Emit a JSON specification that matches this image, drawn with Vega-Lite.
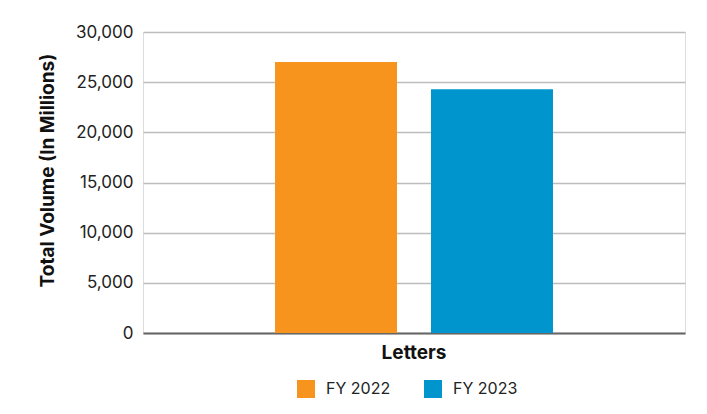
{
  "$schema": "https://vega.github.io/schema/vega-lite/v6.json",
  "width": 542,
  "height": 301,
  "autosize": {"type": "none"},
  "padding": {"left": 143, "top": 32, "right": 22, "bottom": 81},
  "background": "white",
  "data": {
    "values": [
      {"category": "Letters", "year": "FY 2022", "volume": 27000},
      {"category": "Letters", "year": "FY 2023", "volume": 24300}
    ]
  },
  "mark": {"type": "bar"},
  "encoding": {
    "x": {
      "field": "category",
      "type": "nominal",
      "scale": {"paddingInner": 0, "paddingOuter": 0.475},
      "axis": {
        "title": null,
        "labelAngle": 0,
        "labelFont": "Inter",
        "labelFontSize": 19,
        "labelFontWeight": "bold",
        "labelColor": "#111",
        "labelPadding": 10,
        "ticks": false,
        "domainColor": "#666",
        "domainWidth": 2
      }
    },
    "xOffset": {
      "field": "year",
      "type": "nominal",
      "scale": {"paddingInner": 0.218, "paddingOuter": 0}
    },
    "y": {
      "field": "volume",
      "type": "quantitative",
      "scale": {"domain": [0, 30000]},
      "axis": {
        "title": "Total Volume (In Millions)",
        "titleFont": "Inter",
        "titleFontSize": 19,
        "titleFontWeight": "bold",
        "titleColor": "#111",
        "titleX": -96,
        "titleY": 138,
        "titleBaseline": "middle",
        "values": [0, 5000, 10000, 15000, 20000, 25000, 30000],
        "format": ",.0f",
        "labelFont": "Inter",
        "labelFontSize": 17,
        "labelColor": "#222",
        "labelPadding": 10,
        "ticks": false,
        "domain": false,
        "gridColor": "#bdbdbd",
        "gridWidth": 1.3
      }
    },
    "color": {
      "field": "year",
      "type": "nominal",
      "scale": {"domain": ["FY 2022", "FY 2023"], "range": ["#F7941D", "#0095CD"]},
      "legend": {
        "title": null,
        "orient": "none",
        "direction": "horizontal",
        "legendX": 154,
        "legendY": 348,
        "symbolType": "square",
        "symbolSize": 324,
        "symbolStrokeWidth": 0,
        "symbolOpacity": 1,
        "labelFont": "Inter",
        "labelFontSize": 16,
        "labelColor": "#222",
        "labelOffset": 11,
        "columnPadding": 33
      }
    }
  }
}
